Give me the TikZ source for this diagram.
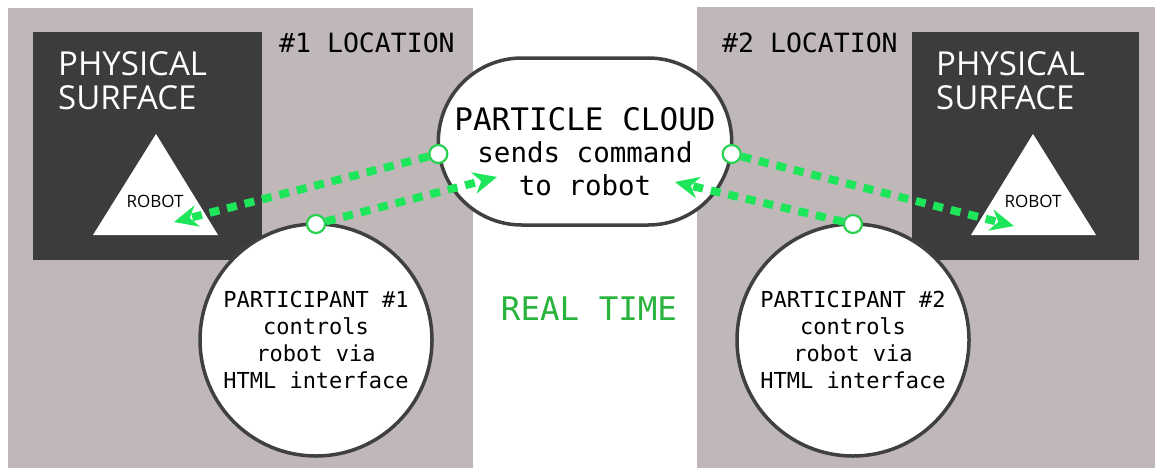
\documentclass[tikz,border=0pt]{standalone}
\usepackage{fontspec}
\usetikzlibrary{shapes.misc,arrows.meta}
\newfontfamily\monofont{DejaVu Sans Mono}
\newfontfamily\surfacefont{Open Sans}
\newfontfamily\robotfont{Open Sans}
\definecolor{bggray}{RGB}{191,183,184}
\definecolor{boxdark}{RGB}{60,60,60}
\definecolor{edgegray}{RGB}{64,64,64}
\definecolor{flowgreen}{RGB}{30,230,90}
\definecolor{portgreen}{RGB}{40,210,80}
\definecolor{timegreen}{RGB}{40,180,60}
\tikzset{
  flow/.style = {draw=flowgreen, line width=8pt, dash pattern=on 10pt off 8pt,
    -{Stealth[length=24pt, width=22pt, line width=0pt]}},
  port/.style = {circle, draw=portgreen, fill=white, line width=2.2pt,
    minimum size=18pt, inner sep=0pt},
  bubble/.style = {draw=edgegray, fill=white, line width=3.5pt, outer sep=0pt},
  surface/.style = {anchor=north west, inner sep=0pt, align=left, text=white,
    font=\surfacefont\fontsize{33}{34}\selectfont},
  place/.style = {anchor=base west, inner sep=0pt,
    font=\monofont\fontsize{26.5}{30}\selectfont},
  robotlbl/.style = {inner sep=0pt, font=\robotfont\fontsize{17}{20}\selectfont},
  person/.style = {bubble, circle, minimum size=232pt, inner sep=0pt, align=center,
    font=\monofont\fontsize{22}{27}\selectfont}
}
\begin{document}
\begin{tikzpicture}[x=1pt, y=-1pt]
\useasboundingbox (0,0) rectangle (1155,471);
\fill[white] (0,0) rectangle (1155,471);
% two locations
\fill[bggray] (8,8) rectangle (473,468);
\fill[bggray] (697,7) rectangle (1155,468);
\fill[boxdark] (33,32) rectangle (262,260);
\fill[boxdark] (912,32) rectangle (1139,260);
\fill[white] (156,134) -- (218,235) -- (93,235) -- cycle;
\fill[white] (1033,134) -- (1096,235) -- (971,235) -- cycle;
\node[place] (loc1) at (279,52) {\#1 LOCATION};
\node[place] (loc2) at (722,52) {\#2 LOCATION};
\node[surface] (phys1) at (58,51) {PHYSICAL\\SURFACE};
\node[surface] (phys2) at (936,51) {PHYSICAL\\SURFACE};
\node[robotlbl] (robot1) at (155,201) {ROBOT};
\node[robotlbl] (robot2) at (1033,201) {ROBOT};
% cloud and participants
\node[bubble, rounded rectangle, minimum width=300pt, minimum height=167pt] (cloud) at (585,141.5) {};
\node[align=center, font=\monofont\fontsize{27.5}{32.5}\selectfont] (cloudtxt) at (585,151.5)
  {{\fontsize{31}{32.5}\selectfont PARTICLE CLOUD}\\sends command\\to robot};
\node[person] (part1) at (316,340) {PARTICIPANT \#1\\controls\\robot via\\HTML interface};
\node[person] (part2) at (853,340) {PARTICIPANT \#2\\controls\\robot via\\HTML interface};
\node[anchor=base, inner sep=0pt, text=timegreen, font=\monofont\fontsize{32.5}{36}\selectfont] (rtime) at (589,320) {REAL TIME};
% ports and flows
\node[port, yshift=-12.5pt] (cport1) at (cloud.west) {};
\node[port, yshift=-12.5pt] (cport2) at (cloud.east) {};
\node[port] (pport1) at (part1.north) {};
\node[port] (pport2) at (part2.north) {};
\coordinate (tip1) at (174,222);
\coordinate (tip2) at (497,177);
\coordinate (tip3) at (1014,226);
\coordinate (tip4) at (675,182);
\draw[flow] (cport1) -- (tip1);
\draw[flow] (pport1) -- (tip2);
\draw[flow] (cport2) -- (tip3);
\draw[flow] (pport2) -- (tip4);
\end{tikzpicture}
\end{document}
